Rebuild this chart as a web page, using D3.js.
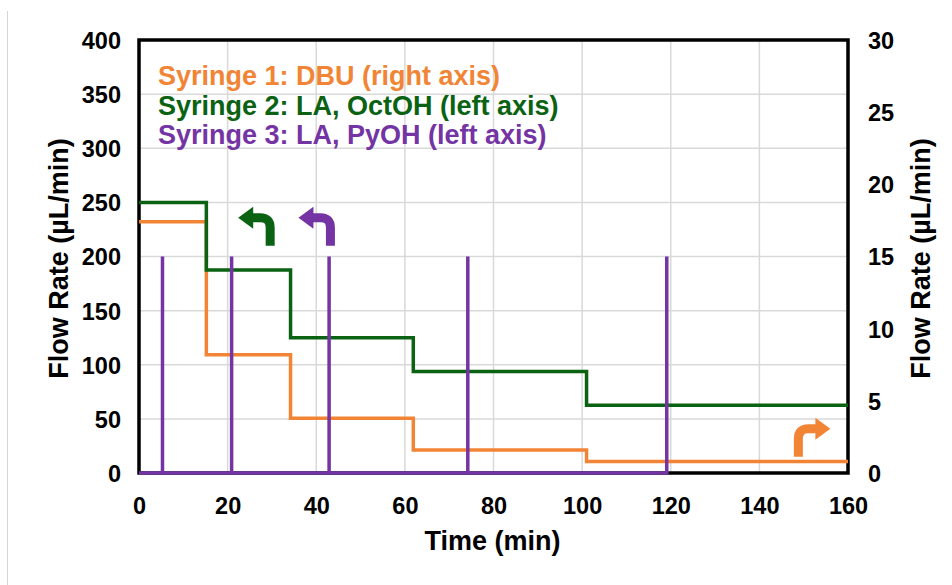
<!DOCTYPE html>
<html><head><meta charset="utf-8">
<script src="https://cdn.jsdelivr.net/npm/d3@7"></script>
<style>
html,body{margin:0;padding:0;background:#fff;}
text{font-family:"Liberation Sans",Arial,sans-serif;font-weight:bold;}
</style></head>
<body>
<svg id="chart" width="952" height="585"></svg>
<script>
// ---- data ----
const xTicks = [0,20,40,60,80,100,120,140,160];
const yLeftTicks = [0,50,100,150,200,250,300,350,400];
const yRightTicks = [0,5,10,15,20,25,30];
// Syringe 1: DBU (right axis) – step starts and flow rate
const dbuTimes = [0,15.2,34.2,61.9,101.0,160];
const dbuRates = [17.4,8.2,3.8,1.6,0.8,0.8];
// Syringe 2: LA, OctOH (left axis)
const octTimes = [0,15.2,34.2,61.9,101.0,160];
const octRates = [250,187.5,125,93.75,62.5,62.5];
// Syringe 3: LA, PyOH (left axis) – pulse times, pulse height, baseline
const pyPulseTimes = [5.3,20.9,42.9,74.2,119.1];
const pyPulseRate = 200;
const pyBase = 0;
const legendLabels = ["Syringe 1: DBU (right axis)","Syringe 2: LA, OctOH (left axis)","Syringe 3: LA, PyOH (left axis)"];
const colors = ["#F28535","#0A6212","#7434A3"];
// curved arrow annotations: stem base (time, left-axis value), direction
const arrows = [
  {t:29.6, v:210, dir:-1, color:colors[1]},
  {t:43.2, v:210, dir:-1, color:colors[2]},
  {t:148.8, v:15, dir:1, color:colors[0]}
];

// ---- layout ----
const svg = d3.select("#chart");
const m = {l:139, t:40, r:952-848, b:585-473};
const W = 952-m.l-m.r, H = 585-m.t-m.b;
const x = d3.scaleLinear().domain([0,160]).range([m.l, m.l+W]);
const yL = d3.scaleLinear().domain([0,400]).range([m.t+H, m.t]);
const yR = d3.scaleLinear().domain([0,30]).range([m.t+H, m.t]);

// screenshot edge line
svg.append("line").attr("x1",7.5).attr("x2",7.5).attr("y1",11).attr("y2",585)
  .attr("stroke","#d4d4d4").attr("stroke-width",1);

// gridlines
const g = svg.append("g");
g.selectAll(".gx").data(xTicks).join("line")
  .attr("x1",d=>x(d)).attr("x2",d=>x(d)).attr("y1",m.t).attr("y2",m.t+H)
  .attr("stroke","#d9d9d9").attr("stroke-width",1.5);
g.selectAll(".gy").data(yLeftTicks).join("line")
  .attr("y1",d=>yL(d)).attr("y2",d=>yL(d)).attr("x1",m.l).attr("x2",m.l+W)
  .attr("stroke","#d9d9d9").attr("stroke-width",1.5);

// frame
svg.append("rect").attr("x",m.l).attr("y",m.t).attr("width",W).attr("height",H)
  .attr("fill","none").attr("stroke","#000").attr("stroke-width",3.5);

// axes (labels only)
const axB = d3.axisBottom(x).tickValues(xTicks).tickSize(0).tickPadding(24);
const axL = d3.axisLeft(yL).tickValues(yLeftTicks).tickSize(0).tickPadding(18);
const axR = d3.axisRight(yR).tickValues(yRightTicks).tickSize(0).tickPadding(20);
function styleAxis(sel){
  sel.select(".domain").remove();
  sel.selectAll("text").style("font-size","23.5px").style("font-family","'Liberation Sans',Arial,sans-serif").style("font-weight","bold").attr("fill","#000");
}
svg.append("g").attr("transform",`translate(0,${m.t+H})`).call(axB).call(styleAxis);
svg.append("g").attr("transform",`translate(${m.l},0)`).call(axL).call(styleAxis)
  .selectAll("text").attr("dy","0.36em");
svg.append("g").attr("transform",`translate(${m.l+W},0)`).call(axR).call(styleAxis)
  .selectAll("text").attr("dy","0.36em");

// axis titles
svg.append("text").attr("x",(m.l+m.l+W)/2 - 1).attr("y",550).attr("text-anchor","middle")
  .style("font-size","27px").text("Time (min)");
svg.append("text").attr("transform",`translate(68,${m.t+H/2+2}) rotate(-90)`).attr("text-anchor","middle")
  .style("font-size","27px").text("Flow Rate (µL/min)");
svg.append("text").attr("transform",`translate(930,${m.t+H/2+2}) rotate(-90)`).attr("text-anchor","middle")
  .style("font-size","27px").text("Flow Rate (µL/min)");

// lines
const stepLine = (ys)=>d3.line().x(d=>x(d[0])).y(d=>ys(d[1])).curve(d3.curveStepAfter);
const dbu = dbuTimes.map((t,i)=>[t,dbuRates[i]]);
const oct = octTimes.map((t,i)=>[t,octRates[i]]);
svg.append("path").attr("d",stepLine(yR)(dbu)).attr("fill","none")
  .attr("stroke",colors[0]).attr("stroke-width",3.5);
svg.append("path").attr("d",stepLine(yL)(oct)).attr("fill","none")
  .attr("stroke",colors[1]).attr("stroke-width",3.5);
const py = [[0,pyBase]];
pyPulseTimes.forEach(t=>{py.push([t,pyBase],[t,pyPulseRate],[t,pyBase]);});
svg.append("path").attr("d",d3.line().x(d=>x(d[0])).y(d=>yL(d[1]))(py)).attr("fill","none")
  .attr("stroke",colors[2]).attr("stroke-width",3.5).attr("stroke-linejoin","miter");

// arrows
arrows.forEach(a=>{
  const ax = x(a.t), ay = yL(a.v), d = a.dir;
  const gA = svg.append("g").attr("transform",`translate(${ax},${ay})`);
  const p = d3.path();
  p.moveTo(0,0); p.lineTo(0,-18);
  p.quadraticCurveTo(0,-28,10*d,-28);
  p.lineTo(18*d,-28);
  gA.append("path").attr("d",p.toString()).attr("fill","none").attr("stroke",a.color).attr("stroke-width",9);
  const h = d3.path();
  h.moveTo(17*d,-39); h.lineTo(32*d,-28); h.lineTo(17*d,-17); h.closePath();
  gA.append("path").attr("d",h.toString()).attr("fill",a.color);
});

// legend
svg.selectAll(".leg").data(legendLabels).join("text")
  .attr("x",158).attr("y",(d,i)=>85+i*29.5)
  .attr("fill",(d,i)=>colors[i]).style("font-size","27px").text(d=>d);
</script>
</body></html>
